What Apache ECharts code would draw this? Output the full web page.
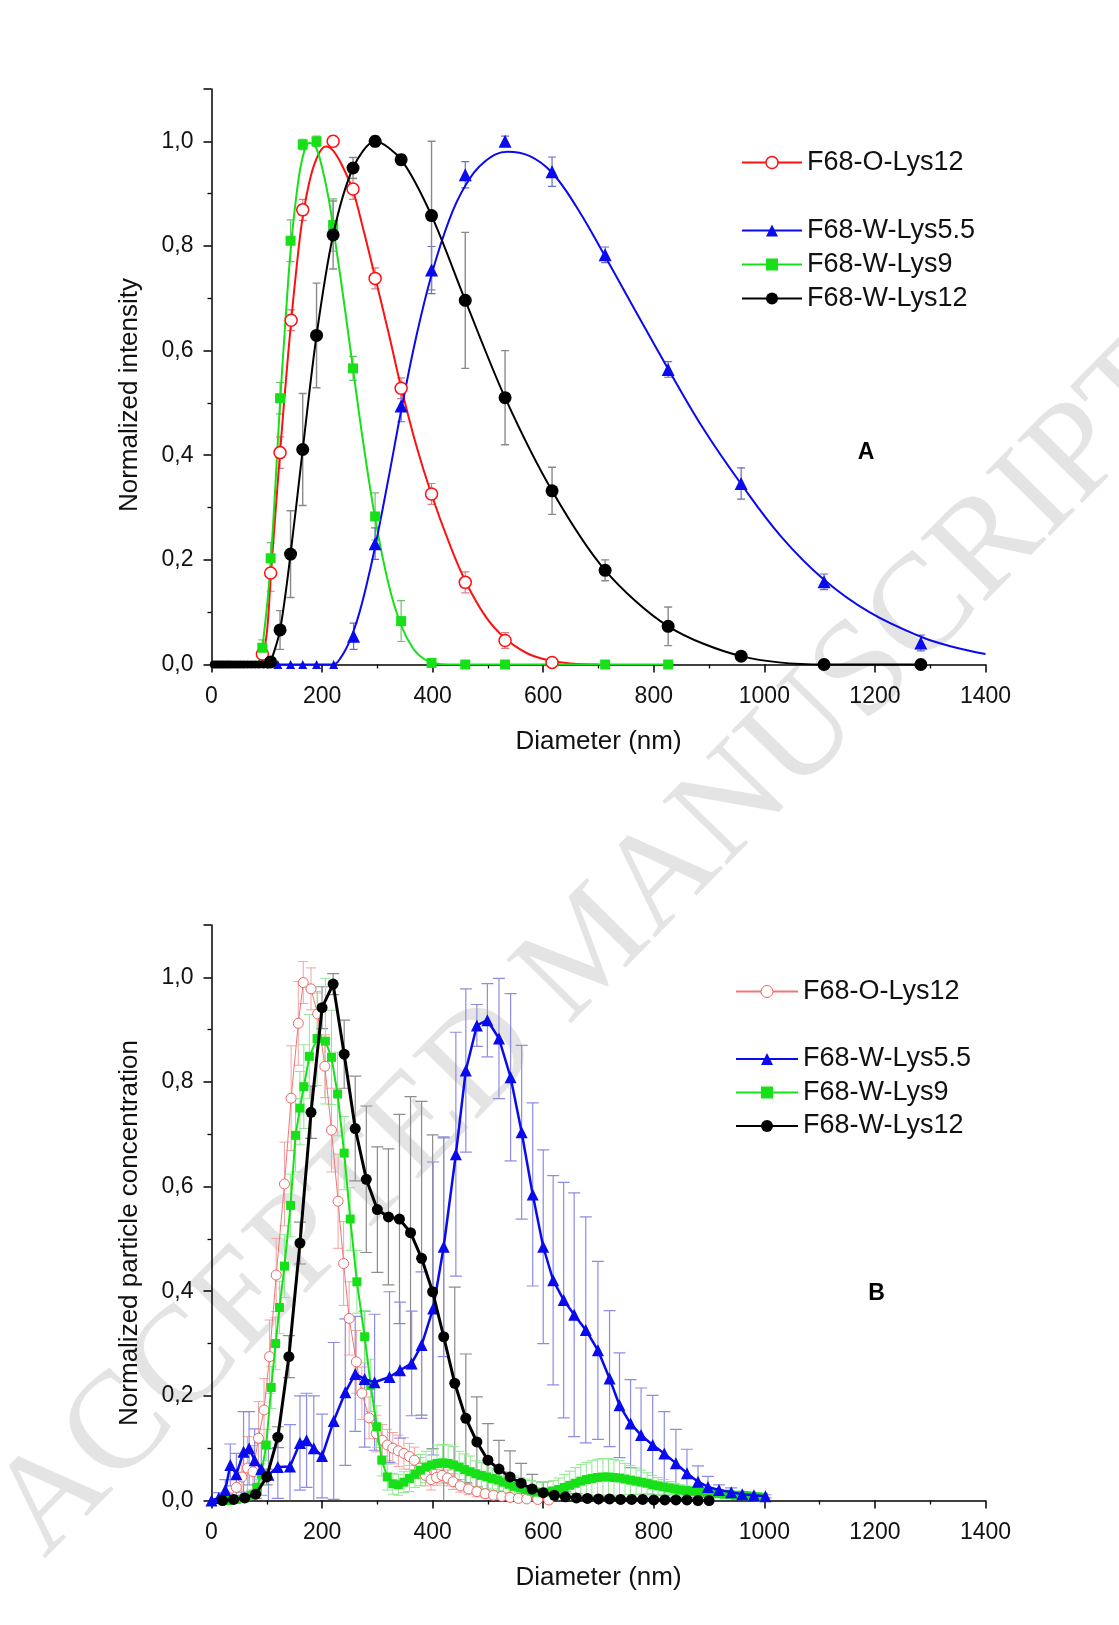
<!DOCTYPE html>
<html><head><meta charset="utf-8">
<script src="https://cdn.jsdelivr.net/npm/echarts@6/dist/echarts.min.js"></script>
<style>html,body{margin:0;padding:0;background:#fff}#c{width:1119px;height:1625px}</style>
</head><body><div id="c"></div>
<script>
// ================= Panel A (normalized intensity) =================
const A_red_x   = [92,107,124,144,165,220,256,296,343,398,459,531,616];
const A_red_y   = [0.02,0.175,0.405,0.658,0.869,1.0,0.909,0.738,0.528,0.326,0.157,0.046,0.004];
const A_red_e   = [0.01,0.035,0.03,0.02,0.02,0.01,0.02,0.02,0.02,0.02,0.02,0.015,0];

const A_green_x = [92,107,124,143,165,190,220,256,296,343,398,459,531,712,826];
const A_green_y = [0.032,0.203,0.509,0.81,0.994,1.0,0.84,0.566,0.283,0.083,0.003,0,0,0,0];
const A_green_e = [0.015,0.03,0.03,0.04,0.01,0.01,0.05,0.023,0.045,0.039,0.005,0,0,0,0];

const A_blue_x  = [120,143,165,190,221,257,296,343,398,459,531,616,712,826,958,1108,1283];
const A_blue_y  = [0,0,0,0,0,0.054,0.231,0.494,0.754,0.936,1.0,0.942,0.783,0.564,0.346,0.158,0.041];
const A_blue_e  = [0,0,0,0,0,0.025,0.03,0.03,0.045,0.025,0.01,0.028,0.015,0.015,0.03,0.015,0.015];

const A_black_x = [4,9,14,19,24,29,34,40,46,52,58,65,72,79,86,94,102,107,124,143,165,190,220,256,296,343,398,459,531,616,712,826,958,1108,1283];
const A_black_y = [0,0,0,0,0,0,0,0,0,0,0,0,0,0,0,0,0,0.005,0.066,0.211,0.411,0.629,0.821,0.949,1.0,0.965,0.858,0.696,0.51,0.332,0.18,0.073,0.016,0,0];
const A_black_e = [0,0,0,0,0,0,0,0,0,0,0,0,0,0,0,0,0,0,0.037,0.083,0.107,0.1,0.065,0.02,0.01,0.01,0.142,0.13,0.09,0.045,0.02,0.037,0.005,0,0];

// fitted curves
const A_red_fit = [[90,0],[100,0.06],[107,0.165],[115,0.28],[124,0.405],[134,0.535],[144,0.655],[155,0.77],[165,0.855],[180,0.935],[195,0.978],[207,0.99],[220,0.982],[238,0.95],[256,0.905],[275,0.83],[296,0.74],[320,0.635],[343,0.53],[370,0.42],[398,0.325],[430,0.232],[459,0.16],[495,0.093],[531,0.05],[570,0.022],[610,0.008],[650,0.002],[700,0]];
const A_green_fit = [[80,0],[88,0.01],[95,0.06],[102,0.13],[108,0.21],[116,0.35],[124,0.5],[134,0.66],[143,0.79],[154,0.9],[165,0.97],[177,0.997],[188,0.99],[200,0.95],[212,0.89],[225,0.8],[240,0.69],[256,0.565],[275,0.42],[296,0.28],[320,0.155],[343,0.075],[365,0.03],[385,0.01],[405,0.002],[430,0],[600,0],[830,0]];
const A_blue_fit = [[100,0],[220,0],[235,0.015],[250,0.045],[265,0.09],[280,0.15],[296,0.225],[320,0.355],[343,0.485],[370,0.625],[398,0.745],[430,0.85],[459,0.915],[495,0.962],[535,0.98],[575,0.972],[616,0.94],[660,0.875],[712,0.78],[770,0.67],[826,0.565],[890,0.45],[958,0.345],[1030,0.245],[1108,0.162],[1190,0.1],[1283,0.053],[1340,0.034],[1400,0.02]];

// ================= Panel B (normalized particle concentration) [x, y, err] =================
const B_red = [[20,0,0],[33,0.005,0.005],[45,0.025,0.02],[55,0.045,0.04],[65,0.062,0.06],[75,0.055,0.05],[85,0.119,0.07],[95,0.173,0.06],[105,0.275,0.07],[117,0.431,0.07],[132,0.605,0.08],[144,0.769,0.1],[157,0.912,0.08],[166,0.99,0.04],[180,0.978,0.04],[192,0.93,0.04],[205,0.83,0.06],[217,0.708,0.08],[229,0.572,0.09],[239,0.453,0.08],[249,0.348,0.07],[262,0.265,0.06],[272,0.205,0.05],[285,0.158,0.04],[298,0.128,0.035],[309,0.115,0.03],[318,0.106,0.03],[328,0.1,0.03],[338,0.095,0.03],[348,0.09,0.03],[358,0.084,0.025],[367,0.077,0.025],[377,0.062,0.02],[387,0.048,0.02],[397,0.04,0.02],[407,0.044,0.015],[417,0.048,0.015],[427,0.043,0.015],[437,0.036,0.015],[450,0.028,0.012],[465,0.022,0.01],[480,0.017,0.01],[495,0.013,0.008],[510,0.01,0.006],[525,0.008,0.005],[540,0.006,0.004],[555,0.004,0.003],[570,0.003,0.002],[590,0.002,0.002],[610,0.001,0.001]];

const B_blue = [[0,0,0],[13,0.005,0.01],[25,0.02,0.02],[34,0.068,0.04],[45,0.05,0.04],[58,0.093,0.077],[68,0.1,0.07],[78,0.077,0.06],[90,0.06,0.05],[103,0.049,0.05],[120,0.064,0.06],[142,0.065,0.08],[160,0.11,0.09],[172,0.115,0.09],[185,0.1,0.1],[200,0.085,0.08],[221,0.152,0.15],[242,0.207,0.14],[260,0.242,0.11],[277,0.232,0.13],[295,0.226,0.13],[322,0.236,0.163],[341,0.249,0.13],[362,0.262,0.1],[380,0.297,0.14],[401,0.367,0.28],[420,0.485,0.21],[442,0.662,0.233],[460,0.822,0.156],[480,0.908,0.04],[499,0.918,0.07],[520,0.883,0.115],[541,0.809,0.16],[561,0.704,0.166],[581,0.585,0.175],[600,0.485,0.185],[618,0.421,0.2],[637,0.383,0.225],[656,0.355,0.233],[677,0.326,0.216],[699,0.287,0.17],[720,0.233,0.13],[738,0.182,0.1],[758,0.147,0.084],[777,0.125,0.09],[798,0.106,0.095],[819,0.09,0.08],[840,0.071,0.065],[860,0.052,0.046],[880,0.036,0.03],[898,0.026,0.02],[918,0.02,0.01],[940,0.016,0.008],[960,0.012,0.005],[981,0.01,0.004],[1002,0.008,0.003]];

const B_green = [[30,0,0],[45,0.002,0.003],[60,0.005,0.005],[72,0.01,0.01],[82,0.025,0.015],[90,0.05,0.02],[99,0.106,0.03],[108,0.216,0.04],[116,0.3,0.05],[123,0.369,0.05],[132,0.448,0.06],[143,0.564,0.06],[152,0.698,0.07],[160,0.75,0.07],[167,0.791,0.08],[177,0.849,0.08],[191,0.883,0.09],[206,0.878,0.12],[217,0.847,0.09],[228,0.777,0.08],[240,0.664,0.07],[251,0.538,0.06],[263,0.418,0.06],[277,0.313,0.05],[288,0.22,0.05],[299,0.141,0.04],[308,0.077,0.03],[318,0.045,0.025],[328,0.032,0.02],[338,0.03,0.02],[348,0.035,0.02],[358,0.042,0.025],[368,0.05,0.025],[378,0.058,0.03],[388,0.064,0.03],[398,0.068,0.03],[408,0.071,0.035],[418,0.072,0.035],[428,0.071,0.035],[438,0.068,0.035],[448,0.064,0.03],[458,0.059,0.03],[468,0.055,0.03],[478,0.051,0.025],[488,0.048,0.025],[498,0.045,0.025],[508,0.042,0.02],[518,0.039,0.02],[528,0.035,0.02],[538,0.031,0.02],[548,0.027,0.02],[558,0.024,0.02],[568,0.021,0.02],[578,0.018,0.02],[588,0.016,0.02],[598,0.015,0.02],[608,0.016,0.02],[618,0.018,0.02],[628,0.021,0.022],[638,0.025,0.025],[648,0.029,0.027],[658,0.033,0.03],[668,0.037,0.032],[678,0.04,0.033],[688,0.042,0.034],[698,0.044,0.035],[708,0.045,0.035],[718,0.045,0.035],[728,0.044,0.034],[738,0.043,0.033],[748,0.041,0.03],[758,0.039,0.028],[768,0.037,0.025],[778,0.035,0.023],[788,0.033,0.02],[798,0.03,0.018],[808,0.028,0.016],[818,0.026,0.014],[828,0.024,0.012],[838,0.022,0.011],[848,0.02,0.01],[858,0.019,0.009],[868,0.018,0.008],[878,0.017,0.007],[888,0.016,0.006],[898,0.015,0.005],[908,0.014,0.005],[918,0.013,0.004],[928,0.012,0.004],[938,0.011,0.003],[948,0.01,0.003],[958,0.01,0.003],[968,0.009,0.002],[978,0.008,0.002],[988,0.007,0.002],[998,0.006,0.002]];

const B_black = [[20,0,0],[40,0.002,0.002],[60,0.005,0.004],[80,0.012,0.008],[100,0.045,0.015],[120,0.121,0.02],[140,0.275,0.04],[160,0.492,0.04],[180,0.742,0.05],[200,0.942,0.04],[220,0.987,0.02],[240,0.853,0.065],[260,0.711,0.1],[280,0.614,0.14],[300,0.556,0.12],[320,0.542,0.13],[340,0.538,0.2],[360,0.512,0.26],[380,0.463,0.3],[400,0.399,0.3],[420,0.313,0.38],[440,0.224,0.184],[460,0.157,0.123],[480,0.112,0.086],[500,0.077,0.07],[520,0.06,0.055],[540,0.045,0.05],[560,0.033,0.038],[580,0.022,0.028],[600,0.015,0.02],[620,0.01,0.015],[640,0.007,0.01],[660,0.005,0.008],[680,0.004,0.006],[700,0.003,0.005],[720,0.003,0.004],[740,0.002,0.003],[760,0.002,0.003],[780,0.002,0.002],[800,0.001,0.002],[820,0.001,0.001],[840,0.001,0.001],[860,0.001,0.001],[880,0,0],[900,0,0]];

// tick labels / names
const X_NAME = 'Diameter (nm)';
const Y_NAME_A = 'Normalized intensity';
const Y_NAME_B = 'Normalized particle concentration';
const NAMES = ['F68-O-Lys12','F68-W-Lys5.5','F68-W-Lys9','F68-W-Lys12'];
const SUFB = ' [B]';

// ---------------------------------------------------------------
const FONT = 'Liberation Sans, Arial, sans-serif';
const zip2 = (xs, ys) => xs.map((x, i) => [x, ys[i]]);
const zip3 = (xs, ys, es) => xs.map((x, i) => [x, ys[i], es[i]]);

function errSeries(data, color, gi, capHalf, lw) {
  return {
    type: 'custom', xAxisIndex: gi, yAxisIndex: gi, silent: true, z: 1,
    data: data, encode: { x: 0, y: 1 }, clip: true,
    renderItem: function (params, api) {
      const x = api.value(0), y = api.value(1), e = api.value(2);
      if (!(e > 0)) return null;
      const top = api.coord([x, Math.min(1.1, y + e)]);
      const lo = y - e;
      const bot = api.coord([x, Math.max(0, lo)]);
      const st = { stroke: color, lineWidth: lw, fill: null };
      const ch = [
        { type: 'line', shape: { x1: top[0], y1: top[1], x2: bot[0], y2: bot[1] }, style: st },
        { type: 'line', shape: { x1: top[0] - capHalf, y1: top[1], x2: top[0] + capHalf, y2: top[1] }, style: st }
      ];
      if (lo > 0) ch.push({ type: 'line', shape: { x1: bot[0] - capHalf, y1: bot[1], x2: bot[0] + capHalf, y2: bot[1] }, style: st });
      return { type: 'group', children: ch };
    }
  };
}

function xAxis(gi) {
  return {
    type: 'value', gridIndex: gi, min: 0, max: 1400, interval: 200,
    name: X_NAME, nameLocation: 'middle', nameGap: 64,
    nameTextStyle: { fontFamily: FONT, fontSize: 26, color: '#111' },
    axisLine: { show: true, onZero: false, lineStyle: { color: '#000', width: 1.5 } },
    axisTick: { show: true, inside: false, length: 8, lineStyle: { color: '#000', width: 1.5 } },
    minorTick: { show: true, splitNumber: 2, length: 4, lineStyle: { color: '#000', width: 1.3 } },
    splitLine: { show: false }, minorSplitLine: { show: false },
    axisLabel: { margin: 21, fontFamily: FONT, fontSize: 23, color: '#111', formatter: v => String(v) }
  };
}
function yAxis(gi) {
  return {
    type: 'value', gridIndex: gi, min: 0, max: 1.1, interval: 0.2,
    axisLine: { show: true, onZero: false, lineStyle: { color: '#000', width: 1.5 } },
    axisTick: { show: true, inside: false, length: 8, lineStyle: { color: '#000', width: 1.5 } },
    minorTick: { show: true, splitNumber: 2, length: 4, lineStyle: { color: '#000', width: 1.3 } },
    splitLine: { show: false }, minorSplitLine: { show: false },
    axisLabel: { margin: 18, fontFamily: FONT, fontSize: 23, color: '#111', showMaxLabel: false,
      formatter: v => v.toFixed(1).replace('.', ',') }
  };
}

const RED = '#ff1010', GREEN = '#18e018', BLUE = '#0a0aee', BLACK = '#000';

const series = [
  // ---- Panel A error bars
  errSeries(zip3(A_red_x, A_red_y, A_red_e), '#d88080', 0, 4, 1.2),
  errSeries(zip3(A_green_x, A_green_y, A_green_e), '#70c070', 0, 4, 1.2),
  errSeries(zip3(A_blue_x, A_blue_y, A_blue_e), '#6a6ac8', 0, 4, 1.2),
  errSeries(zip3(A_black_x, A_black_y, A_black_e), '#8a8a8a', 0, 4, 1.4),
  // ---- Panel A fitted curves
  { type: 'line', xAxisIndex: 0, yAxisIndex: 0, data: A_red_fit, smooth: 0.4, showSymbol: false, silent: true, z: 2,
    lineStyle: { color: RED, width: 2 } },
  { type: 'line', xAxisIndex: 0, yAxisIndex: 0, data: A_green_fit, smooth: 0.4, showSymbol: false, silent: true, z: 2,
    lineStyle: { color: GREEN, width: 2 } },
  { type: 'line', xAxisIndex: 0, yAxisIndex: 0, data: A_blue_fit, smooth: 0.4, showSymbol: false, silent: true, z: 2,
    lineStyle: { color: BLUE, width: 2 } },
  // ---- Panel A markers
  { name: NAMES[0], type: 'line', xAxisIndex: 0, yAxisIndex: 0, data: zip2(A_red_x, A_red_y), z: 4, clip: false,
    symbol: 'circle', symbolSize: 12, lineStyle: { color: RED, width: 2, opacity: 0 },
    itemStyle: { color: '#fff', borderColor: RED, borderWidth: 1.5 } },
  { name: NAMES[1], type: 'line', xAxisIndex: 0, yAxisIndex: 0, data: zip2(A_blue_x, A_blue_y), z: 4, clip: false,
    symbol: 'triangle', symbolSize: v => (v[1] === 0 ? 9 : 13), lineStyle: { color: BLUE, width: 2, opacity: 0 },
    itemStyle: { color: BLUE } },
  { name: NAMES[2], type: 'line', xAxisIndex: 0, yAxisIndex: 0, data: zip2(A_green_x, A_green_y), z: 4, clip: false,
    symbol: 'rect', symbolSize: 10, lineStyle: { color: GREEN, width: 2, opacity: 0 },
    itemStyle: { color: GREEN } },
  { name: NAMES[3], type: 'line', xAxisIndex: 0, yAxisIndex: 0, data: zip2(A_black_x, A_black_y), z: 5, clip: false,
    smooth: 0.3, symbol: 'circle', symbolSize: v => (v[0] < 105 ? 8 : 13), lineStyle: { color: BLACK, width: 2 },
    itemStyle: { color: BLACK } },

  // ---- Panel B error bars
  errSeries(B_red, '#f2a4a4', 1, 5, 1),
  errSeries(B_black, '#8c8c8c', 1, 6, 1.2),
  errSeries(B_blue, '#8c8ce6', 1, 6, 1.2),
  errSeries(B_green, '#8ee88e', 1, 5, 1),
  // ---- Panel B series
  { name: NAMES[0] + SUFB, type: 'line', xAxisIndex: 1, yAxisIndex: 1, data: B_red.map(d => [d[0], d[1]]), z: 3, clip: false,
    symbol: 'circle', symbolSize: 10, lineStyle: { color: '#e77', width: 1 },
    itemStyle: { color: '#fff', borderColor: '#e66', borderWidth: 1 } },
  { name: NAMES[2] + SUFB, type: 'line', xAxisIndex: 1, yAxisIndex: 1, data: B_green.map(d => [d[0], d[1]]), z: 4, clip: false,
    symbol: 'rect', symbolSize: 9, lineStyle: { color: GREEN, width: 2 },
    itemStyle: { color: GREEN } },
  { name: NAMES[1] + SUFB, type: 'line', xAxisIndex: 1, yAxisIndex: 1, data: B_blue.map(d => [d[0], d[1]]), z: 5, clip: false,
    symbol: 'triangle', symbolSize: 12, lineStyle: { color: BLUE, width: 2.5 },
    itemStyle: { color: BLUE } },
  { name: NAMES[3] + SUFB, type: 'line', xAxisIndex: 1, yAxisIndex: 1, data: B_black.map(d => [d[0], d[1]]), z: 6, clip: false,
    symbol: 'circle', symbolSize: 11, lineStyle: { color: BLACK, width: 3 },
    itemStyle: { color: BLACK } }
];

const legendBase = {
  orient: 'vertical', itemWidth: 60, itemHeight: 15, itemGap: 7, selectedMode: false,
  textStyle: { fontFamily: FONT, fontSize: 27, color: '#111' },
  formatter: n => n.replace(SUFB, '')
};

const option = {
  animation: false,
  backgroundColor: '#fff',
  grid: [
    { left: 211.5, top: 89, width: 774, height: 575.5 },
    { left: 211.5, top: 925, width: 774, height: 575.5 }
  ],
  xAxis: [xAxis(0), xAxis(1)],
  yAxis: [yAxis(0), yAxis(1)],
  legend: [
    Object.assign({}, legendBase, { left: 736, top: 144, lineStyle: { width: 2, opacity: 1 },
      data: [{ name: NAMES[0], itemStyle: { color: '#fff', borderColor: RED, borderWidth: 1.5 } }] }),
    Object.assign({}, legendBase, { left: 736, top: 212, lineStyle: { width: 2, opacity: 1 },
      data: [NAMES[1], NAMES[2], NAMES[3]] }),
    Object.assign({}, legendBase, { left: 730, top: 973, itemWidth: 62,
      data: [{ name: NAMES[0] + SUFB, itemStyle: { color: '#fff', borderColor: '#e66', borderWidth: 1 } }] }),
    Object.assign({}, legendBase, { left: 730, top: 1040.5, itemWidth: 62, itemGap: 6.5,
      data: [NAMES[1] + SUFB, NAMES[2] + SUFB, NAMES[3] + SUFB] })
  ],
  graphic: [
    { type: 'text', z: -10, x: 592, y: 950, rotation: 45.5 * Math.PI / 180,
      style: { text: 'ACCEPTED MANUSCRIPT', font: '138px "Liberation Serif", "DejaVu Serif", serif',
        fill: '#e4e4e4', align: 'center', verticalAlign: 'middle' } },
    { type: 'text', x: 129.5, y: 395, rotation: Math.PI / 2,
      style: { text: Y_NAME_A, font: '26px ' + FONT, fill: '#111', align: 'center', verticalAlign: 'middle' } },
    { type: 'text', x: 129.5, y: 1233, rotation: Math.PI / 2,
      style: { text: Y_NAME_B, font: '26px ' + FONT, fill: '#111', align: 'center', verticalAlign: 'middle' } },
    { type: 'text', x: 866, y: 453,
      style: { text: 'A', font: 'bold 23px ' + FONT, fill: '#000', align: 'center', verticalAlign: 'middle' } },
    { type: 'text', x: 876.5, y: 1294,
      style: { text: 'B', font: 'bold 23px ' + FONT, fill: '#000', align: 'center', verticalAlign: 'middle' } }
  ],
  series: series
};

const chart = echarts.init(document.getElementById('c'), null, { renderer: 'canvas' });
chart.setOption(option);
</script>
</body></html>
